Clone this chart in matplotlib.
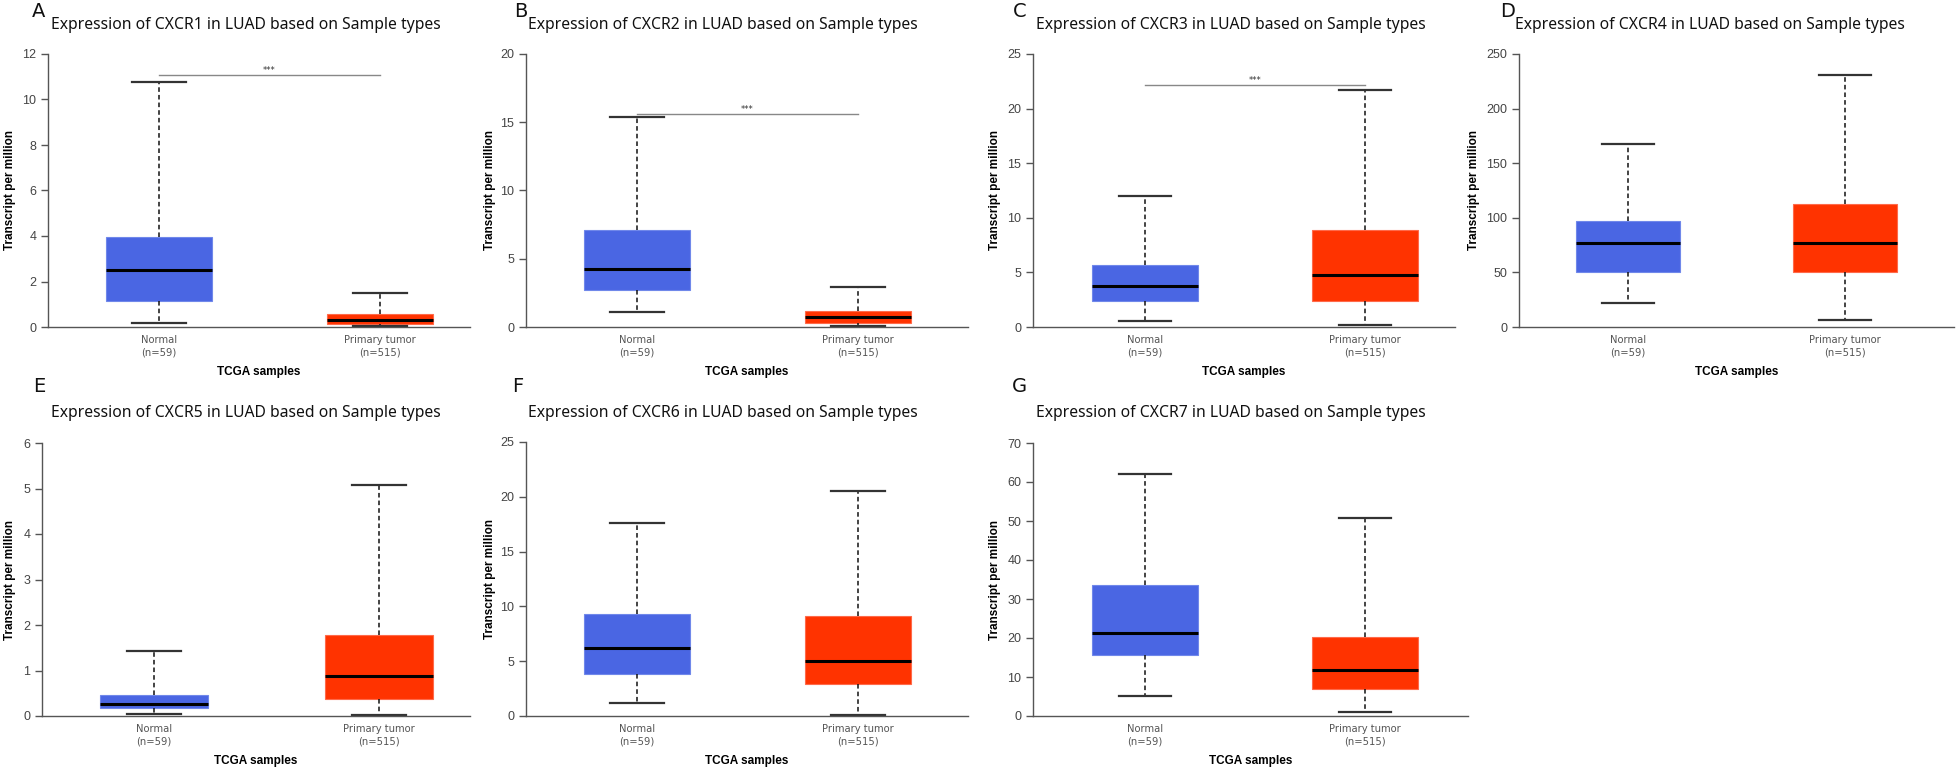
import numpy as np
import matplotlib.pyplot as plt

genes = ['CXCR1', 'CXCR2', 'CXCR3', 'CXCR4', 'CXCR5', 'CXCR6', 'CXCR7']
letters = ['A', 'B', 'C', 'D', 'E', 'F', 'G']
groups = ['Normal\n(n=59)', 'Primary tumor\n(n=515)']

# box stats (TPM)
normal_lo = [0.19, 1.10, 0.52, 22.0, 0.04, 1.22, 5.1]
normal_q1 = [1.13, 2.69, 2.35, 50.1, 0.18, 3.84, 15.6]
normal_med = [2.49, 4.22, 3.72, 76.6, 0.26, 6.19, 21.3]
normal_q3 = [3.97, 7.13, 5.70, 96.8, 0.47, 9.30, 33.5]
normal_hi = [10.77, 15.36, 11.97, 167.6, 1.43, 17.65, 62.1]

tumor_lo = [0.05, 0.05, 0.21, 6.7, 0.015, 0.12, 1.0]
tumor_q1 = [0.15, 0.29, 2.35, 50.0, 0.38, 2.96, 7.0]
tumor_med = [0.32, 0.71, 4.80, 76.6, 0.88, 5.03, 11.7]
tumor_q3 = [0.57, 1.17, 8.85, 113.0, 1.78, 9.15, 20.2]
tumor_hi = [1.51, 2.95, 21.67, 231.0, 5.07, 20.49, 50.8]

y_max = [12, 20, 25, 250, 6, 25, 70]
y_step = [2, 5, 5, 50, 1, 5, 10]
sig_level = [11.06, 15.63, 22.2, None, None, None, None]

# layout in pixels: left, right, top, bottom, centre0, centre1, ylabel x, title x, title y, letter x, letter y
W, H = 1958, 770
layout = [
    (48, 470, 54, 327, 159, 380, 10, 51, 25, 32, 2),
    (526, 968, 54, 327, 637, 858, 490, 528, 25, 514, 2),
    (1033, 1455, 54, 327, 1145, 1365, 995, 1036, 25, 1013, 2),
    (1519, 1954, 54, 327, 1628, 1845, 1474, 1515, 25, 1500, 2),
    (42, 470, 443, 716, 154, 379, 10, 51, 413, 33, 377),
    (526, 968, 442, 716, 637, 858, 490, 528, 413, 512, 377),
    (1033, 1468, 443, 716, 1145, 1365, 995, 1036, 413, 1012, 377),
]

blue = '#4A66E3'
red = '#FF3300'

fig = plt.figure(figsize=(W / 100, H / 100), dpi=100)

for i in range(len(genes)):
    L, R, T, B, c0, c1, ylx, tx, ty, lx, ly = layout[i]
    ax = fig.add_axes([L / W, 1 - B / H, (R - L) / W, (B - T) / H])

    stats = [
        dict(whislo=normal_lo[i], q1=normal_q1[i], med=normal_med[i], q3=normal_q3[i], whishi=normal_hi[i], fliers=[]),
        dict(whislo=tumor_lo[i], q1=tumor_q1[i], med=tumor_med[i], q3=tumor_q3[i], whishi=tumor_hi[i], fliers=[]),
    ]
    bp = ax.bxp(stats, positions=[0, 1], widths=0.48, patch_artist=True, showfliers=False,
                capwidths=0.24,
                boxprops=dict(linewidth=0.8),
                whiskerprops=dict(color='#111111', linewidth=1.1, linestyle=(0, (3, 2))),
                capprops=dict(color='#333333', linewidth=1.6),
                medianprops=dict(color='black', linewidth=2.2))
    bp['boxes'][0].set_facecolor(blue)
    bp['boxes'][0].set_edgecolor('#7088ea')
    bp['boxes'][1].set_facecolor(red)
    bp['boxes'][1].set_edgecolor('#ff6a4a')

    if sig_level[i] is not None:
        ax.plot([0, 1], [sig_level[i], sig_level[i]], color='#888888', linewidth=1)
        ax.text(0.5, sig_level[i], '***', ha='center', va='bottom', fontsize=6, color='#333333')

    span = c1 - c0
    ax.set_xlim(-(c0 - L) / span, 1 + (R - c1) / span)
    ax.set_ylim(0, y_max[i])
    ax.set_yticks(np.arange(0, y_max[i] + y_step[i] / 2, y_step[i]))
    ax.set_xticks([0, 1])
    ax.set_xticklabels(groups, fontsize=7.2, color='#555555', family='DejaVu Sans', linespacing=1.3)
    for lab in ax.get_yticklabels():
        lab.set_family('Liberation Sans')
    ax.tick_params(axis='y', direction='out', length=5, width=1, colors='#555555', labelsize=9, labelcolor='#444444')
    ax.tick_params(axis='x', length=0, pad=6)

    for s in ['top', 'right']:
        ax.spines[s].set_visible(False)
    for s in ['left', 'bottom']:
        ax.spines[s].set_color('#555555')
        ax.spines[s].set_linewidth(1)

    ax.set_ylabel('Transcript per million', fontsize=8.5, fontweight='bold', family='Liberation Sans')
    ax.yaxis.set_label_coords((ylx + 6 - L) / (R - L), 0.5)
    ax.set_xlabel('TCGA samples', fontsize=8.5, fontweight='bold', family='Liberation Sans')
    ax.xaxis.set_label_coords(0.5, -(366 - 327) / (B - T))

    fig.text(tx / W, 1 - ty / H, f'Expression of {genes[i]} in LUAD based on Sample types',
             ha='left', va='center', fontsize=11.3, family='Noto Sans', color='#111111')
    fig.text(lx / W, 1 - ly / H, letters[i], ha='left', va='top', fontsize=14, family='DejaVu Sans',
             color='#111111')

fig.savefig('out.png', dpi=100)
